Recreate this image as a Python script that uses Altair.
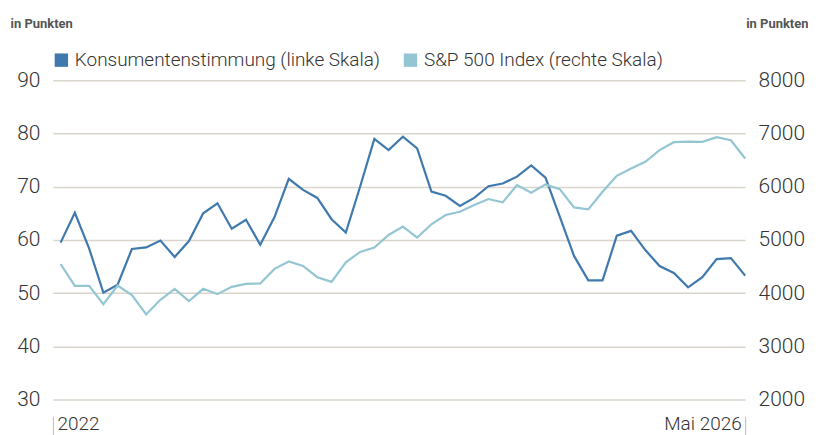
import altair as alt
import pandas as pd

# ---- data ----
idx = list(range(49))
konsum = [59.5, 65.1, 58.4, 50.1, 51.6, 58.3, 58.6, 59.9, 56.8, 59.8,
          65.0, 66.9, 62.1, 63.8, 59.1, 64.3, 71.5, 69.4, 67.9, 63.9,
          61.4, 70.0, 79.0, 76.9, 79.4, 77.2, 69.1, 68.3, 66.4, 67.9,
          70.1, 70.6, 71.9, 74.0, 71.7, 64.4, 57.0, 52.4, 52.4, 60.8,
          61.7, 58.1, 55.1, 53.8, 51.1, 53.0, 56.4, 56.6, 53.3]
spx = [4544, 4138, 4138, 3794, 4144, 3962, 3600, 3875, 4081, 3850,
       4081, 3981, 4119, 4175, 4181, 4456, 4594, 4512, 4300, 4212,
       4581, 4775, 4856, 5094, 5250, 5044, 5294, 5469, 5531, 5656,
       5769, 5706, 6031, 5888, 6044, 5956, 5612, 5575, 5906, 6206,
       6344, 6469, 6688, 6838, 6850, 6844, 6931, 6875, 6531]
series_names = ["Konsumentenstimmung (linke Skala)", "S&P 500 Index (rechte Skala)"]
x_labels = ["2022", "Mai 2026"]
left_ticks = [30, 40, 50, 60, 70, 80, 90]
right_ticks = [2000, 3000, 4000, 5000, 6000, 7000, 8000]
axis_title = "in Punkten"

DARK = "#3f79ad"
LIGHT = "#93c6d2"
GRID = "#d9d5cb"
TEXT = "#333333"
FONT = "Roboto"
LW = 300

df = pd.DataFrame({"i": idx, "k": konsum, "s": spx})
leg = pd.DataFrame({"series": series_names})

x_enc = alt.X(
    "i:Q",
    scale=alt.Scale(domain=[-0.54, 48], nice=False, zero=False),
    axis=alt.Axis(
        values=[-0.54, 48],
        labelExpr=f"datum.value < 0 ? '{x_labels[0]}' : '{x_labels[1]}'",
        labelFlush=True, labelFlushOffset=-4,
        domain=False, grid=False, ticks=True, tickSize=18, tickColor="#bbbbbb",
        offset=17, labelPadding=-20, labelFontSize=19, labelColor=TEXT,
        labelFont=FONT, labelFontWeight=LW, title=None,
    ),
)

dark = alt.Chart(df).mark_line(color=DARK, strokeWidth=2.2).encode(
    x=x_enc,
    y=alt.Y(
        "k:Q",
        scale=alt.Scale(domain=[30, 90], nice=False, zero=False),
        axis=alt.Axis(
            orient="left", values=left_ticks, grid=True, gridColor=GRID, gridWidth=1.5,
            domain=False, ticks=False, labelPadding=13, labelFontSize=21,
            labelColor=TEXT, labelFont=FONT, labelFontWeight=LW,
            title=axis_title, titleAngle=0, titleAlign="left", titleBaseline="alphabetic",
            titleX=-43, titleY=-53, titleFontSize=13, titleFontWeight="bold",
            titleFont="Roboto", titleColor="#555555",
        ),
    ),
)

light = alt.Chart(df).mark_line(color=LIGHT, strokeWidth=2.2).encode(
    x=x_enc,
    y=alt.Y(
        "s:Q",
        scale=alt.Scale(domain=[2000, 8000], nice=False, zero=False),
        axis=alt.Axis(
            orient="right", values=right_ticks, format="d", grid=False,
            domain=False, ticks=False, labelPadding=13, labelFontSize=21,
            labelColor=TEXT, labelFont=FONT, labelFontWeight=LW,
            title=axis_title, titleAngle=0, titleAlign="right", titleBaseline="alphabetic",
            titleX=63, titleY=-53, titleFontSize=13, titleFontWeight="bold",
            titleFont="Roboto", titleColor="#555555",
        ),
    ),
)

legend_layer = alt.Chart(leg).mark_square(opacity=0).encode(
    x=alt.value(0),
    y=alt.value(0),
    color=alt.Color(
        "series:N",
        scale=alt.Scale(domain=series_names, range=[DARK, LIGHT]),
        legend=alt.Legend(
            orient="none", legendX=-1, legendY=-30, direction="horizontal",
            title=None, symbolType="square", symbolSize=180, symbolOpacity=1,
            symbolStrokeWidth=0, labelFontSize=19, labelFont=FONT, labelFontWeight=LW,
            labelColor=TEXT, columnPadding=20, labelOffset=4, padding=0, labelLimit=400,
        ),
    ),
)

chart = (
    alt.layer(dark, light, legend_layer)
    .resolve_scale(y="independent")
    .properties(
        width=694, height=320,
        autosize=alt.AutoSizeParams(type="none"),
        padding={"left": 45, "top": 72, "right": 63, "bottom": 35},
        background="white",
    )
    .configure_view(stroke=None)
)

chart.save("out.html", embed_options={"renderer": "svg", "actions": False})
